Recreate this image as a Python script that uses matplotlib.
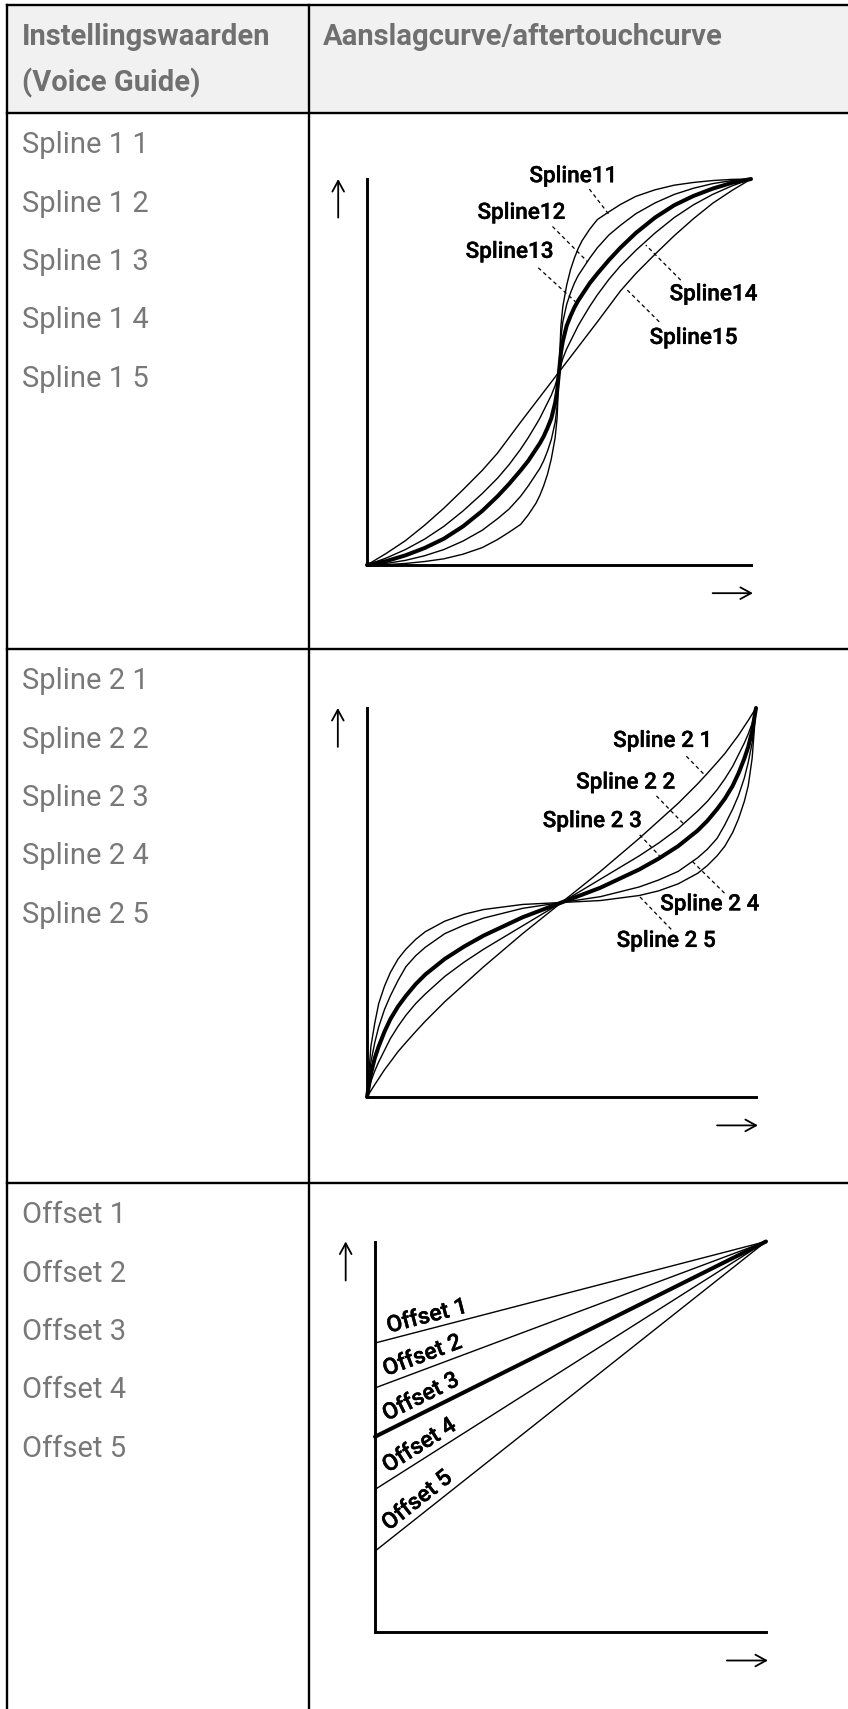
import numpy as np
import matplotlib
matplotlib.use("Agg")
import matplotlib.pyplot as plt
import matplotlib.patheffects as pe
from matplotlib.patches import Rectangle

plt.rcParams['font.family'] = ['Roboto', 'DejaVu Sans']

# ---------------- data ----------------
header_left = ["Instellingswaarden", "(Voice Guide)"]
header_right = "Aanslagcurve/aftertouchcurve"
row1_names = ["Spline 1 1", "Spline 1 2", "Spline 1 3", "Spline 1 4", "Spline 1 5"]
row2_names = ["Spline 2 1", "Spline 2 2", "Spline 2 3", "Spline 2 4", "Spline 2 5"]
row3_names = ["Offset 1", "Offset 2", "Offset 3", "Offset 4", "Offset 5"]

# Spline 1 family (S-curves through the centre)
s1_x = [0, .05, .1, .15, .2, .25, .3, .34, .37, .4, .42, .44, .45, .46, .47, .48, .49, .495, .5,
        .505, .51, .52, .53, .54, .55, .56, .58, .6, .63, .66, .7, .75, .8, .85, .9, .95, 1]
s1_11 = [0, .001, .004, .009, .016, .028, .045, .066, .085, .105, .13, .16, .18, .205, .235, .275, .33, .38, .5,
         .62, .67, .725, .765, .795, .82, .84, .87, .895, .915, .934, .955, .972, .984, .991, .996, .999, 1]
s1_12 = [0, .004, .012, .024, .04, .062, .09, .12, .145, .178, .205, .235, .25, .27, .295, .325, .37, .41, .5,
         .59, .63, .675, .705, .73, .75, .765, .795, .822, .855, .88, .91, .938, .96, .976, .988, .996, 1]
s1_13 = [0, .01, .025, .044, .068, .10, .14, .178, .21, .245, .27, .30, .315, .333, .355, .38, .42, .45, .5,
         .55, .58, .62, .645, .667, .685, .70, .73, .755, .79, .822, .86, .90, .932, .956, .975, .99, 1]
s1_14 = [0, .018, .04, .067, .10, .14, .185, .225, .26, .30, .33, .363, .38, .40, .42, .44, .465, .482, .5,
         .518, .535, .56, .58, .60, .62, .637, .67, .70, .74, .775, .815, .86, .90, .933, .96, .982, 1]
s1_15 = [0, .03, .063, .103, .147, .195, .245, .29, .33, .37, .396, .422, .435, .448, .461, .474, .487, .4935, .5,
         .5065, .513, .526, .539, .552, .565, .578, .604, .63, .67, .71, .755, .805, .853, .897, .937, .97, 1]
s1_curves = [s1_11, s1_12, s1_13, s1_14, s1_15]
s1_labels = ["Spline11", "Spline12", "Spline13", "Spline14", "Spline15"]
s1_label_xy = [(0.537, 1.006), (0.402, 0.911), (0.371, 0.81), (0.902, 0.70), (0.85, 0.587)]
s1_lead_from = [(0.579, 0.974), (0.483, 0.877), (0.446, 0.770), (0.817, 0.738), (0.761, 0.630)]
s1_lead_to = [(0.630, 0.908), (0.574, 0.786), (0.543, 0.682), (0.726, 0.829), (0.672, 0.718)]

# Spline 2 family (inverse S-curves)
s2_x = [0, .01, .02, .03, .045, .06, .08, .1, .125, .15, .2, .25, .3, .4, .5,
        .6, .7, .75, .8, .85, .875, .9, .92, .94, .955, .97, .98, .99, 1]
s2_21 = [0, .016, .032, .047, .07, .09, .117, .14, .168, .195, .245, .29, .335, .42, .5,
         .58, .665, .71, .755, .805, .832, .86, .883, .91, .93, .953, .968, .984, 1]
s2_22 = [0, .04, .067, .09, .12, .15, .182, .21, .24, .265, .31, .347, .38, .44, .5,
         .56, .62, .653, .69, .735, .76, .79, .818, .85, .88, .91, .933, .96, 1]
s2_23 = [0, .06, .10, .13, .168, .20, .233, .26, .29, .315, .355, .387, .415, .462, .5,
         .538, .585, .613, .645, .685, .71, .74, .767, .80, .832, .87, .90, .94, 1]
s2_24 = [0, .09, .14, .18, .225, .26, .30, .335, .363, .385, .42, .442, .46, .485, .5,
         .515, .54, .558, .58, .615, .637, .665, .70, .74, .775, .82, .86, .91, 1]
s2_25 = [0, .13, .19, .24, .285, .32, .355, .38, .405, .425, .452, .47, .482, .495, .5,
         .505, .518, .53, .548, .575, .595, .62, .645, .68, .715, .76, .80, .87, 1]
s2_curves = [s2_21, s2_22, s2_23, s2_24, s2_25]
s2_labels = ["Spline 2 1", "Spline 2 2", "Spline 2 3", "Spline 2 4", "Spline 2 5"]
s2_label_xy = [(0.76, 0.914), (0.665, 0.807), (0.579, 0.708), (0.881, 0.494), (0.769, 0.40)]
s2_lead_from = [(0.821, 0.876), (0.744, 0.774), (0.701, 0.674), (0.919, 0.524), (0.782, 0.431)]
s2_lead_to = [(0.868, 0.828), (0.812, 0.704), (0.752, 0.620), (0.833, 0.609), (0.701, 0.515)]

# Offset family (straight lines to the top-right corner)
offset_start = [0.74, 0.625, 0.5, 0.365, 0.207]
offset_end_x = 1.0
offset_end_y = 1.0
offset_labels = ["Offset 1", "Offset 2", "Offset 3", "Offset 4", "Offset 5"]
offset_label_xy = [(0.035, 0.766), (0.028, 0.655), (0.03, 0.540), (0.033, 0.407), (0.035, 0.258)]

thick_index = 2  # the middle curve of each family is drawn bold

# ---------------- figure ----------------
W, H = 848, 1709
fig = plt.figure(figsize=(W / 100, H / 100), dpi=100)
bg = fig.add_axes([0, 0, 1, 1])
bg.set_xlim(0, W)
bg.set_ylim(H, 0)
bg.axis('off')

LX, TOP, DIV, HB, R1, R2 = 6.5, 5, 309, 113, 649, 1183
bg.add_patch(Rectangle((LX, TOP), W - LX, HB - TOP, facecolor='#f1f1f1', edgecolor='none'))
tl = dict(color='black', lw=1.7, solid_capstyle='projecting')
for yy in (TOP, HB, R1, R2):
    bg.plot([LX, W], [yy, yy], **tl)
bg.plot([LX, LX], [TOP, H], **tl)
bg.plot([DIV, DIV], [TOP, H], **tl)

hdr = dict(fontsize=21, fontweight='bold', color='#707070', va='baseline', ha='left')
bg.text(22, 45, header_left[0], **hdr)
bg.text(22, 91, header_left[1], **hdr)
bg.text(323, 45, header_right, **hdr)

cell = dict(fontsize=21, color='#787878', va='baseline', ha='left')
for names, y0 in ((row1_names, 153), (row2_names, 689), (row3_names, 1223)):
    for i, n in enumerate(names):
        bg.text(22, y0 + i * 58.5, n, **cell)


def make_ax(x0, x1, ytop, ybot):
    ax = fig.add_axes([x0 / W, 1 - ybot / H, (x1 - x0) / W, (ybot - ytop) / H])
    ax.set_xlim(0, 1)
    ax.set_ylim(0, 1)
    ax.patch.set_alpha(0)
    for s in ('top', 'right'):
        ax.spines[s].set_visible(False)
    for s in ('left', 'bottom'):
        ax.spines[s].set_linewidth(2.1)
        ax.spines[s].set_capstyle('projecting')
    ax.set_xticks([])
    ax.set_yticks([])
    arr = dict(arrowstyle='->,head_length=0.55,head_width=0.3', lw=1.3, color='black',
               mutation_scale=14, shrinkA=0, shrinkB=0)
    ax.annotate('', xy=(-0.075, 1.0), xytext=(-0.075, 0.90), xycoords='axes fraction',
                arrowprops=arr, annotation_clip=False)
    ax.annotate('', xy=(1.005, -0.073), xytext=(0.90, -0.073), xycoords='axes fraction',
                arrowprops=arr, annotation_clip=False)
    return ax


heavy = [pe.withStroke(linewidth=0.25, foreground='black')]
lab = dict(fontsize=16.2, fontweight='medium', color='black', ha='center', va='center',
           path_effects=heavy)
dash = dict(color='black', lw=0.9, linestyle=(0, (3, 2.5)), clip_on=False)
THICK, THIN = 2.9, 1.0

# Spline 1
ax1 = make_ax(367, 751, 179, 565)
for i, c in enumerate(s1_curves):
    ax1.plot(s1_x, c, color='black', lw=THICK if i == thick_index else THIN,
             clip_on=False, solid_capstyle='round', solid_joinstyle='round')
for t, p, a, b in zip(s1_labels, s1_label_xy, s1_lead_from, s1_lead_to):
    ax1.text(p[0], p[1], t, **lab)
    ax1.plot([a[0], b[0]], [a[1], b[1]], **dash)

# Spline 2
ax2 = make_ax(367, 756, 708, 1097)
for i, c in enumerate(s2_curves):
    ax2.plot(s2_x, c, color='black', lw=THICK if i == thick_index else THIN,
             clip_on=False, solid_capstyle='round', solid_joinstyle='round')
for t, p, a, b in zip(s2_labels, s2_label_xy, s2_lead_from, s2_lead_to):
    ax2.text(p[0], p[1], t, **lab)
    ax2.plot([a[0], b[0]], [a[1], b[1]], **dash)

# Offset
ax3 = make_ax(375, 766, 1241.5, 1632)
for i, (b0, t, p) in enumerate(zip(offset_start, offset_labels, offset_label_xy)):
    ax3.plot([0, offset_end_x], [b0, offset_end_y], color='black',
             lw=THICK if i == thick_index else THIN, clip_on=False, solid_capstyle='round')
    ang = np.degrees(np.arctan((offset_end_y - b0) / offset_end_x))
    ax3.text(p[0], p[1], t, rotation=ang, rotation_mode='anchor',
             transform_rotates_text=True, ha='left', va='baseline',
             fontsize=16.5, fontweight='medium', color='black', path_effects=heavy)

fig.savefig('out.png', dpi=100)
